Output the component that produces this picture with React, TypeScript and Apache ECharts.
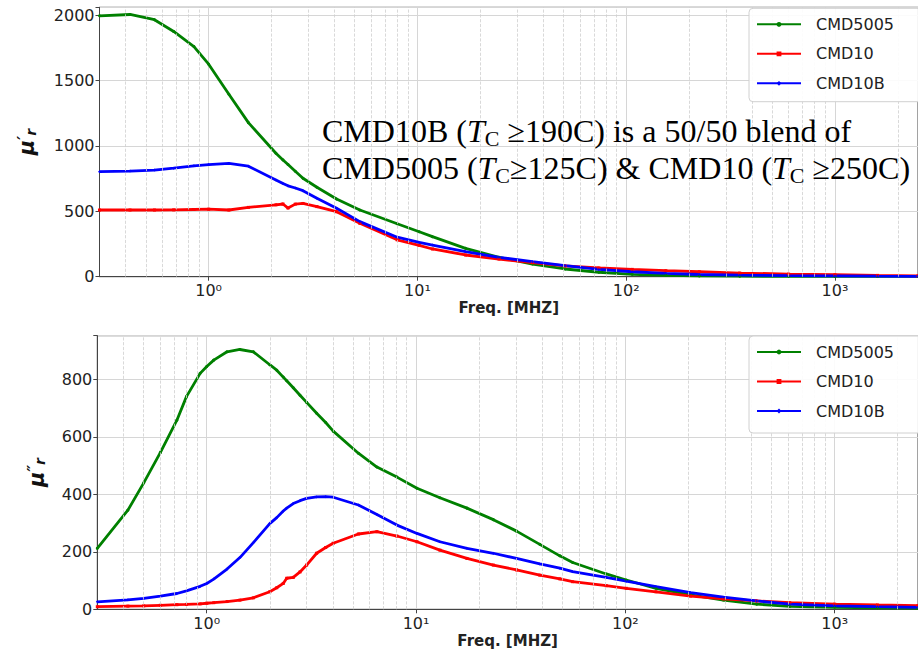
import React, { useEffect, useRef } from "react";
import * as echarts from "echarts";

// ---------- data ----------
const FREQ_TOP = [0.3, 0.42, 0.55, 0.68, 0.85, 1.0, 1.25, 1.55, 2.1, 2.27, 2.4, 2.6, 2.83, 3.3, 4.1, 5.3, 8, 10.2, 11.8, 17, 24.6, 35.6, 51, 74, 107, 155, 224, 350, 600, 1000, 1600, 2500];
const MU1_CMD5005 = [1995, 2005, 1965, 1875, 1760, 1625, 1395, 1178, 944, 893, 858, 806, 753, 684, 594, 510, 405, 344, 306, 217, 148, 97, 59, 34, 18, 10, 6, 4, 3, 2, 2, 2];
const MU1_CMD10 = [510, 510, 510, 511, 514, 516, 510, 530, 550, 556, 525, 555, 560, 536, 497, 408, 282, 240, 212, 166, 135, 107, 82, 67, 56, 46, 38, 28, 20, 15, 10, 7];
const MU1_CMD10B = [803, 808, 815, 830, 848, 857, 866, 845, 740, 712, 695, 678, 658, 600, 523, 421, 302, 262, 242, 191, 148, 115, 84, 56, 38, 26, 17, 12, 8, 6, 4, 3];

const FREQ_BOT = [0.3, 0.42, 0.5, 0.6, 0.72, 0.8, 0.93, 1.0, 1.08, 1.25, 1.44, 1.67, 2.0, 2.16, 2.32, 2.41, 2.59, 2.79, 3.0, 3.35, 3.7, 4.02, 5.3, 6.5, 8.1, 10.1, 13, 17.5, 23.4, 30.2, 39, 48.6, 56, 81, 101, 140, 205, 294, 424, 610, 1000, 1600, 2500];
const MU2_CMD5005 = [212, 345, 440, 545, 658, 740, 821, 845, 867, 896, 904, 896, 851, 832, 808, 795, 771, 745, 720, 682, 650, 620, 543, 495, 460, 421, 388, 352, 312, 272, 226, 186, 163, 123, 102, 73, 50, 32, 18, 10, 7, 5, 4];
const MU2_CMD10 = [9, 11, 12, 14, 16, 17, 19, 21, 23, 27, 32, 40, 61, 75, 90, 108, 111, 130, 154, 195, 215, 230, 262, 270, 255, 235, 206, 177, 154, 137, 119, 106, 96, 82, 73, 61, 46, 36, 29, 23, 18, 15, 13];
const MU2_CMD10B = [26, 33, 38, 46, 55, 64, 80, 90, 105, 140, 180, 232, 298, 319, 342, 352, 368, 378, 386, 391, 392, 390, 363, 330, 293, 264, 235, 212, 195, 177, 158, 143, 131, 111, 98, 79, 58, 42, 29, 18, 12, 9, 7];

const SERIES_NAMES = ["CMD5005", "CMD10", "CMD10B"];
const SERIES_COLORS = ["#008000", "#ff0000", "#0000ff"];
const SERIES_SYMBOLS = ["circle", "rect", "diamond"];
const MINOR_FREQS = [0.4, 0.5, 0.6, 0.7, 0.8, 0.9, 2, 3, 4, 5, 6, 7, 8, 9, 20, 30, 40, 50, 60, 70, 80, 90, 200, 300, 400, 500, 600, 700, 800, 900, 2000];
const X_MIN = 0.3;
const X_MAX = 2500;

const SUP = ["⁰", "¹", "²", "³", "⁴"];

function pairs(f: number[], v: number[]) {
  return f.map((x, i) => [x, v[i]]);
}

export default function App() {
  const ref = useRef<HTMLDivElement>(null);
  useEffect(() => {
    if (!ref.current) return;
    const chart = echarts.init(ref.current, null, { renderer: "svg" });
    const font = "DejaVu Sans";
    const xLabelFmt = (v: number) => {
      const l = Math.log10(v);
      const r = Math.round(l);
      if (Math.abs(l - r) > 1e-6) return "";
      return "10" + SUP[r];
    };
    const xAxisBase = (gridIndex: number) => ({
      type: "log",
      logBase: 10,
      gridIndex,
      min: X_MIN,
      max: X_MAX,
      name: "Freq. [MHZ]",
      nameLocation: "middle",
      nameGap: 24,
      nameTextStyle: { fontFamily: font, fontWeight: "bold", fontSize: 15, color: "#222", verticalAlign: "top" },
      axisLine: { show: true, lineStyle: { color: "#444", width: 1 } },
      axisTick: { show: true, length: 4, lineStyle: { color: "#444" } },
      axisLabel: { formatter: xLabelFmt, fontFamily: font, fontSize: 16, color: "#222", margin: 6, showMinLabel: false, showMaxLabel: false },
      splitLine: { show: true, lineStyle: { color: "#d6d6d6", width: 1 } },
    });
    const yName = (primes: string) => ({
      name: "{m|μ}{p|" + primes + "}{r|r}",
      nameLocation: "middle",
      nameRotate: 90,
      nameTextStyle: {
        rich: {
          m: { fontFamily: font, fontWeight: "bold", fontStyle: "italic", fontSize: 21, color: "#111" },
          p: { fontFamily: font, fontWeight: "bold", fontStyle: "italic", fontSize: 15, color: "#111", verticalAlign: "top" },
          r: { fontFamily: font, fontWeight: "bold", fontStyle: "italic", fontSize: 14, color: "#111", verticalAlign: "bottom" },
        },
      },
    });
    const yAxisBase = (gridIndex: number, max: number, interval: number, gap: number, primes: string) => ({
      type: "value",
      gridIndex,
      min: 0,
      max,
      interval,
      ...yName(primes),
      nameGap: gap,
      axisLine: { show: true, lineStyle: { color: "#444", width: 1 } },
      axisTick: { show: true, length: 4, lineStyle: { color: "#444" } },
      axisLabel: {
        fontFamily: font,
        fontSize: 16,
        color: "#222",
        margin: 5,
        formatter: (v: number) => (v % interval === 0 ? String(v) : ""),
      },
      splitLine: { show: true, lineStyle: { color: "#d6d6d6", width: 1 } },
    });

    const mkSeries = (gi: number, f: number[], vals: number[][]) =>
      vals.map((v, i) => ({
        type: "line",
        name: SERIES_NAMES[i],
        xAxisIndex: gi,
        yAxisIndex: gi,
        data: pairs(f, v),
        color: SERIES_COLORS[i],
        symbol: SERIES_SYMBOLS[i],
        symbolSize: 3,
        showSymbol: true,
        lineStyle: { width: 2.8, color: SERIES_COLORS[i] },
        itemStyle: { color: SERIES_COLORS[i] },
        z: 3,
      }));
    const minorSeries = (gi: number) => ({
      type: "line",
      name: "minor" + gi,
      xAxisIndex: gi,
      yAxisIndex: gi,
      data: [],
      silent: true,
      z: 1,
      markLine: {
        silent: true,
        symbol: ["none", "none"],
        label: { show: false },
        lineStyle: { type: "dashed", color: "#cfcfcf", width: 0.8 },
        data: MINOR_FREQS.map((m) => ({ xAxis: m })),
        animation: false,
      },
    });
    const legendBase = (top: number) => ({
      data: SERIES_NAMES,
      orient: "vertical",
      left: 749,
      top,
      z: 8,
      selectedMode: false,
      itemWidth: 44,
      itemHeight: 6,
      itemGap: 13.5,
      padding: [8, 10, 10, 7],
      backgroundColor: "transparent",
      borderWidth: 0,
      textStyle: { fontFamily: font, fontSize: 16, lineHeight: 16, color: "#222", padding: [0, 0, 0, 10] },
    });
    const legendBox = (y: number, h: number) => ({
      type: "rect",
      x: 749,
      y,
      z: 6,
      shape: { x: 0, y: 0, width: 200, height: h, r: 4 },
      style: { fill: "rgba(255,255,255,0.9)", stroke: "#d0d0d0", lineWidth: 1 },
    });

    const nStyle = { fontFamily: "Liberation Serif", fontSize: 32, lineHeight: 37, color: "#222" };
    const iStyle = { ...nStyle, fontStyle: "italic" };
    const sStyle = { fontFamily: "Liberation Serif", fontSize: 22, lineHeight: 15, color: "#222", verticalAlign: "bottom" };
    const rich = { n: nStyle, i: iStyle, s: sStyle };

    chart.setOption({
      animation: false,
      backgroundColor: "#ffffff",
      grid: [
        { left: 99.5, top: 7.3, right: -2, height: 269.4, show: true, borderColor: "#444", borderWidth: 1, backgroundColor: "transparent" },
        { left: 97.3, top: 335.7, right: -4, height: 273.6, show: true, borderColor: "#444", borderWidth: 1, backgroundColor: "transparent" },
      ],
      xAxis: [xAxisBase(0), xAxisBase(1)],
      yAxis: [yAxisBase(0, 2060, 500, 62, "′"), yAxisBase(1, 952, 200, 50, "″")],
      legend: [legendBase(8.3), legendBase(336)],
      series: [
        minorSeries(0),
        minorSeries(1),
        ...mkSeries(0, FREQ_TOP, [MU1_CMD5005, MU1_CMD10, MU1_CMD10B]),
        ...mkSeries(1, FREQ_BOT, [MU2_CMD5005, MU2_CMD10, MU2_CMD10B]),
      ],
      graphic: [
        legendBox(8.3, 93.4),
        legendBox(336, 97),
        {
          type: "text",
          x: 322,
          y: 112,
          z: 10,
          style: { text: "{n|CMD10B (}{i|T}{s|C}{n| ≥190C) is a 50/50 blend of}", rich, verticalAlign: "top" },
        },
        {
          type: "text",
          x: 322,
          y: 149,
          z: 10,
          style: { text: "{n|CMD5005 (}{i|T}{s|C}{n|≥125C) & CMD10 (}{i|T}{s|C}{n| ≥250C)}", rich, verticalAlign: "top" },
        },
      ],
    });
    return () => chart.dispose();
  }, []);
  return (
    <div
      ref={ref}
      style={{ position: "fixed", left: 0, top: 0, width: 918, height: 660, background: "#fff" }}
    />
  );
}
